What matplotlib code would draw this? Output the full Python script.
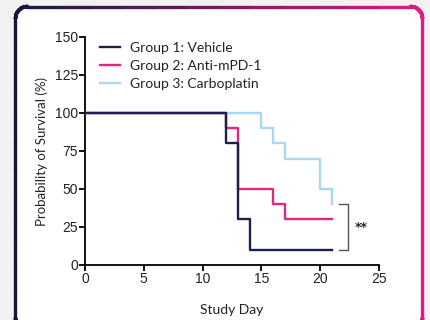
import numpy as np
import matplotlib
matplotlib.use("Agg")
import matplotlib.pyplot as plt
from matplotlib.patches import Polygon
from matplotlib.collections import LineCollection
from matplotlib.colors import LinearSegmentedColormap

# Data
g1_days = [0, 12, 13, 14, 21]
g1_surv = [100, 80, 30, 10, 10]
g2_days = [0, 12, 13, 16, 17, 21]
g2_surv = [100, 90, 50, 40, 30, 30]
g3_days = [0, 15, 16, 17, 20, 21]
g3_surv = [100, 90, 80, 70, 50, 40]
labels = ["Group 1: Vehicle", "Group 2: Anti-mPD-1", "Group 3: Carboplatin"]
colors = ["#1a1f4e", "#e0287f", "#a9d7f3"]
xticks = [0, 5, 10, 15, 20, 25]
yticks = [0, 25, 50, 75, 100, 125, 150]

W, H = 431, 320
fig = plt.figure(figsize=(W / 100, H / 100), dpi=100)
fig.patch.set_facecolor("#f3f2f1")

# Background axes in pixel units for the rounded frame
bg = fig.add_axes([0, 0, 1, 1])
bg.set_xlim(0, W)
bg.set_ylim(H, 0)
bg.axis("off")
bg.set_zorder(-1)
bx0, by0, bx1, by1, r = 15.5, 6.5, 422.5, 330, 12


def rounded_rect(x0, y0, x1, y1, r, n=24):
    pts = []
    corners = [(x1 - r, y0 + r, -90, 0), (x1 - r, y1 - r, 0, 90),
               (x0 + r, y1 - r, 90, 180), (x0 + r, y0 + r, 180, 270)]
    for cx, cy, a0, a1 in corners:
        a = np.radians(np.linspace(a0, a1, n))
        pts.extend(zip(cx + r * np.cos(a), cy + r * np.sin(a)))
    pts.append(pts[0])
    return np.array(pts)


pts = rounded_rect(bx0, by0, bx1, by1, r)
bg.add_patch(Polygon(pts, closed=True, facecolor="white", edgecolor="none",
                     zorder=0))
# densify
dense = []
for p, q in zip(pts[:-1], pts[1:]):
    for t in np.linspace(0, 1, 12, endpoint=False):
        dense.append(p + (q - p) * t)
dense.append(pts[-1])
dense = np.array(dense)
segs = np.stack([dense[:-1], dense[1:]], axis=1)
cmap = LinearSegmentedColormap.from_list("g", ["#121846", "#e01a84"])
xm = (segs[:, 0, 0] + segs[:, 1, 0]) / 2
cvals = np.clip((xm - bx0) / (bx1 - bx0), 0, 1)
lc = LineCollection(segs, colors=cmap(cvals), linewidths=2.4, zorder=1,
                    capstyle="round")
bg.add_collection(lc)

ax = fig.add_axes([85 / W, 1 - 265 / H, (379 - 85) / W, (265 - 37) / H])
ax.set_facecolor("none")

ax.step(g3_days, g3_surv, where="post", color=colors[2], lw=1.7, zorder=3)
ax.step(g2_days, g2_surv, where="post", color=colors[1], lw=1.7, zorder=4)
ax.step(g1_days, g1_surv, where="post", color=colors[0], lw=1.7, zorder=5)

ax.set_xlim(0, 25)
ax.set_ylim(0, 150)
ax.set_xticks(xticks)
ax.set_yticks(yticks)
for s in ["top", "right"]:
    ax.spines[s].set_visible(False)
for s in ["left", "bottom"]:
    ax.spines[s].set_linewidth(1.3)
    ax.spines[s].set_color("black")
ax.tick_params(direction="out", length=4, width=1.3, labelsize=10, pad=1,
               labelcolor="#222222")
for t in ax.get_xticklabels() + ax.get_yticklabels():
    t.set_family("Liberation Sans")

ax.set_ylabel("Probability of Survival (%)", fontsize=9.5, family="Lato",
              color="#222222", labelpad=5)
ax.set_xlabel("Study Day", fontsize=10, family="Lato", color="#222222",
              labelpad=13)

# Legend
handles = [plt.Line2D([], [], color=c, lw=1.7) for c in colors]
leg = ax.legend(handles, labels, loc="upper left", bbox_to_anchor=(0.01, 1.035),
                frameon=False, handlelength=1.4, handletextpad=0.75,
                labelspacing=0.45, prop={"family": "Lato", "size": 10})
for t in leg.get_texts():
    t.set_color("#222222")

# Significance bracket
bx = 22.4
ax.plot([21.6, bx, bx, 21.6], [40, 40, 10, 10], color="#555555", lw=1.0,
        clip_on=False)
ax.text(bx + 0.5, 25, "**", fontsize=9, fontweight="bold", va="center",
        ha="left", color="#222222")

fig.savefig("out.png", dpi=100, facecolor=fig.get_facecolor())
